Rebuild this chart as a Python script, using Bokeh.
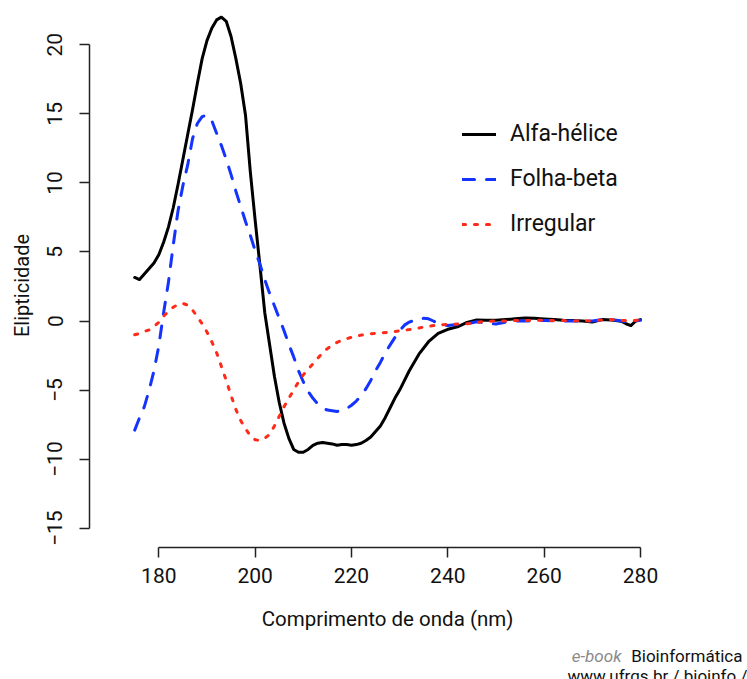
import math
from bokeh.plotting import figure
from bokeh.layouts import column, row
from bokeh.models import Range1d, FixedTicker, Legend, LegendItem, Label
from bokeh.embed import file_html
from bokeh.resources import INLINE

# ---------------- data ----------------
alfa_x = [175, 176, 177, 178, 179, 180, 181, 182, 183, 184, 185, 186, 187, 188, 189,
          190, 191, 192, 193, 194, 195, 196, 197, 198, 199, 200, 201, 202, 203, 204,
          205, 206, 207, 208, 209, 210, 211, 212, 213, 214, 215, 216, 217, 218, 219,
          220, 221, 222, 223, 224, 225, 226, 227, 228, 229, 230, 232, 234, 236, 238,
          240, 242, 244, 246, 248, 250, 252, 254, 256, 258, 260, 262, 264, 266, 268,
          270, 272, 274, 276, 277, 278, 279, 280]
alfa_y = [3.15, 3.0, 3.4, 3.8, 4.2, 4.8, 5.7, 6.8, 8.2, 9.9, 11.7, 13.5, 15.3, 17.2, 19.0,
          20.3, 21.2, 21.8, 22.0, 21.7, 20.6, 19.0, 17.2, 14.9, 10.8, 7.3, 4.0, 0.6, -1.7, -4.0,
          -5.9, -7.4, -8.5, -9.3, -9.5, -9.5, -9.3, -9.0, -8.85, -8.8, -8.85, -8.9, -9.0, -8.95, -8.95,
          -9.0, -8.95, -8.85, -8.65, -8.4, -8.0, -7.6, -7.0, -6.3, -5.6, -5.0, -3.6, -2.4, -1.5, -0.9,
          -0.6, -0.42, -0.1, 0.08, 0.05, 0.05, 0.1, 0.16, 0.22, 0.2, 0.15, 0.1, 0.06, 0.04, 0.0,
          -0.07, 0.1, 0.08, -0.02, -0.2, -0.33, 0.0, 0.1]

beta_x = [175, 176, 177, 178, 179, 180, 181, 182, 183, 184, 185, 186, 187, 188, 189,
          190, 191, 192, 193, 194, 195, 196, 197, 198, 199, 200, 201, 202, 203, 204,
          205, 206, 207, 208, 209, 210, 211, 212, 213, 214, 215, 216, 217, 218, 219,
          220, 221, 222, 223, 224, 225, 226, 227, 228, 229, 230, 231, 232, 233, 234,
          235, 236, 237, 238, 240, 242, 244, 246, 248, 250, 252, 254, 256, 258, 260,
          262, 264, 266, 268, 270, 272, 273, 274, 276, 278, 279, 280]
beta_y = [-7.9, -7.0, -6.2, -5.0, -3.6, -1.8, 0.6, 2.8, 5.5, 8.0, 9.8, 11.3, 13.2, 14.3, 14.8,
          14.9, 14.5, 13.6, 12.7, 11.7, 10.6, 9.4, 8.3, 7.2, 6.2, 5.1, 4.1, 3.0, 2.0, 1.1,
          0.2, -0.7, -1.7, -2.6, -3.6, -4.4, -5.1, -5.6, -6.0, -6.3, -6.45, -6.5, -6.55, -6.5, -6.35,
          -6.1, -5.8, -5.4, -4.9, -4.3, -3.6, -3.0, -2.3, -1.75, -1.2, -0.7, -0.3, -0.08, 0.05, 0.12,
          0.2, 0.16, 0.0, -0.2, -0.33, -0.25, -0.2, -0.05, -0.15, -0.22, -0.08, 0.0, 0.0, 0.02, 0.04,
          0.02, 0.0, 0.0, 0.0, 0.0, 0.1, 0.15, 0.1, 0.0, -0.08, 0.0, 0.05]

irr_x = [175, 176, 177, 178, 179, 180, 181, 182, 183, 184, 185, 186, 187, 188, 189,
         190, 191, 192, 193, 194, 195, 196, 197, 198, 199, 200, 201, 202, 203, 204,
         205, 206, 207, 208, 209, 210, 211, 212, 213, 214, 215, 216, 217, 218, 219,
         220, 222, 224, 226, 228, 230, 232, 234, 236, 238, 240, 242, 244, 246, 248,
         250, 252, 254, 256, 258, 260, 262, 264, 266, 268, 270, 272, 274, 276, 278, 280]
irr_y = [-1.0, -0.9, -0.75, -0.65, -0.4, -0.1, 0.35, 0.7, 1.0, 1.2, 1.27, 1.15, 0.8, 0.3, -0.2,
         -0.8, -1.5, -2.3, -3.3, -4.3, -5.4, -6.4, -7.2, -7.8, -8.3, -8.6, -8.65, -8.5, -8.2, -7.6,
         -6.9, -6.2, -5.6, -5.0, -4.4, -3.9, -3.5, -3.1, -2.7, -2.3, -2.0, -1.75, -1.55, -1.4, -1.28,
         -1.18, -1.02, -0.92, -0.87, -0.8, -0.72, -0.62, -0.5, -0.38, -0.28, -0.25, -0.22, -0.2, -0.1, -0.02,
         0.0, 0.0, 0.03, 0.03, 0.05, 0.05, 0.03, 0.03, 0.0, 0.02, 0.0, 0.08, 0.1, 0.05, 0.0, 0.08]

x_ticks = [180, 200, 220, 240, 260, 280]
y_ticks = [-15, -10, -5, 0, 5, 10, 15, 20]
series_names = ["Alfa-hélice", "Folha-beta", "Irregular"]
x_title = "Comprimento de onda (nm)"
y_title = "Elipticidade"

# ---------------- layout ----------------
W, H = 747, 679
MAIN_H = 638                               # main figure height; credit strip below
YW = 36                                    # width of the strip carrying the y title
FL, FR, FT, FB = 89, 685, 0, 547           # frame edges in page pixels
X_PX0, X_SC = 158.3, 4.817                 # page pixel of x=180, px per nm
Y_PX0, Y_SC = 320.5, 13.811                # page pixel of y=0, px per unit


def dx(px):
    return 180 + (px - X_PX0) / X_SC


def dy(py):
    return (Y_PX0 - py) / Y_SC


FONT = "Roboto"
TXT = "#111111"


def blank(w, h):
    f = figure(width=w, height=h, output_backend="svg", toolbar_location=None,
               x_range=Range1d(0, w), y_range=Range1d(0, h),
               x_axis_type=None, y_axis_type=None,
               min_border_left=0, min_border_right=0, min_border_top=0, min_border_bottom=0)
    f.frame_align = False
    f.outline_line_color = None
    f.xgrid.visible = False
    f.ygrid.visible = False
    return f


p = figure(width=W - YW, height=MAIN_H, output_backend="svg", toolbar_location=None,
           x_range=Range1d(dx(FL), dx(FR)), y_range=Range1d(dy(FB), dy(FT)),
           min_border_left=FL - YW, min_border_right=W - FR,
           min_border_top=FT, min_border_bottom=MAIN_H - FB)
p.frame_align = False
p.outline_line_color = None
p.xgrid.visible = False
p.ygrid.visible = False
p.background_fill_color = "white"
p.border_fill_color = "white"

for ax, ticks, bnds in ((p.xaxis[0], x_ticks, (180, 280)), (p.yaxis[0], y_ticks, (-15, 20))):
    ax.ticker = FixedTicker(ticks=ticks)
    ax.bounds = bnds
    ax.major_tick_out = 10
    ax.major_tick_in = 0
    ax.minor_tick_line_color = None
    ax.axis_line_width = 1.5
    ax.axis_line_color = "#222222"
    ax.major_tick_line_width = 1.5
    ax.major_tick_line_color = "#222222"
    ax.major_label_text_font = FONT
    ax.major_label_text_font_size = "21px"
    ax.major_label_text_color = TXT
p.xaxis[0].major_label_standoff = 10
p.yaxis[0].major_label_standoff = 17
p.yaxis[0].major_label_orientation = "parallel"

p.xaxis[0].axis_label = x_title
p.xaxis[0].axis_label_text_font = FONT
p.xaxis[0].axis_label_text_font_size = "20.5px"
p.xaxis[0].axis_label_text_font_style = "normal"
p.xaxis[0].axis_label_text_color = TXT
p.xaxis[0].axis_label_standoff = 21

BLACK, BLUE, RED = "#000000", "#1433FF", "#FF2A17"
r1 = p.line(alfa_x, alfa_y, line_color=BLACK, line_width=3, line_cap="round", line_join="round")
r2 = p.line(beta_x, beta_y, line_color=BLUE, line_width=3, line_dash="12 12", line_cap="round")
r3 = p.line(irr_x, irr_y, line_color=RED, line_width=3, line_dash="3 9", line_cap="round")

legend = Legend(items=[LegendItem(label=series_names[0], renderers=[r1]),
                       LegendItem(label=series_names[1], renderers=[r2]),
                       LegendItem(label=series_names[2], renderers=[r3])],
                location=(373, 310), padding=0, margin=0, spacing=18,
                glyph_width=34, glyph_height=26, label_height=26, label_standoff=14,
                label_text_font=FONT, label_text_font_size="23px", label_text_color=TXT,
                border_line_color=None, background_fill_alpha=0)
p.add_layout(legend)

# ---------------- y title strip ----------------
ys = blank(YW, MAIN_H)
ys.add_layout(Label(x=21, y=MAIN_H - 285, text=y_title, angle=math.pi / 2, text_font=FONT,
                    text_font_size="20px", text_align="center", text_baseline="alphabetic",
                    text_color=TXT))

# ---------------- credit strip ----------------
CH = H - MAIN_H
c = blank(W, CH)


def cy(py):
    return H - py


c.add_layout(Label(x=621, y=cy(655), text="e-book", text_font=FONT, text_font_style="italic",
                   text_font_size="17px", text_align="right", text_baseline="alphabetic",
                   text_color="#8a8a8a"))
c.add_layout(Label(x=742, y=cy(655), text="Bioinformática", text_font=FONT,
                   text_font_size="17px", text_align="right", text_baseline="alphabetic",
                   text_color=TXT))
c.add_layout(Label(x=567, y=cy(675), text="www.ufrgs.br / bioinfo /", text_font=FONT,
                   text_font_size="17px", text_align="left", text_baseline="alphabetic",
                   text_color=TXT))

layout = column(row(ys, p, spacing=0), c, spacing=0)
open("out.html", "w").write(file_html(layout, INLINE))
